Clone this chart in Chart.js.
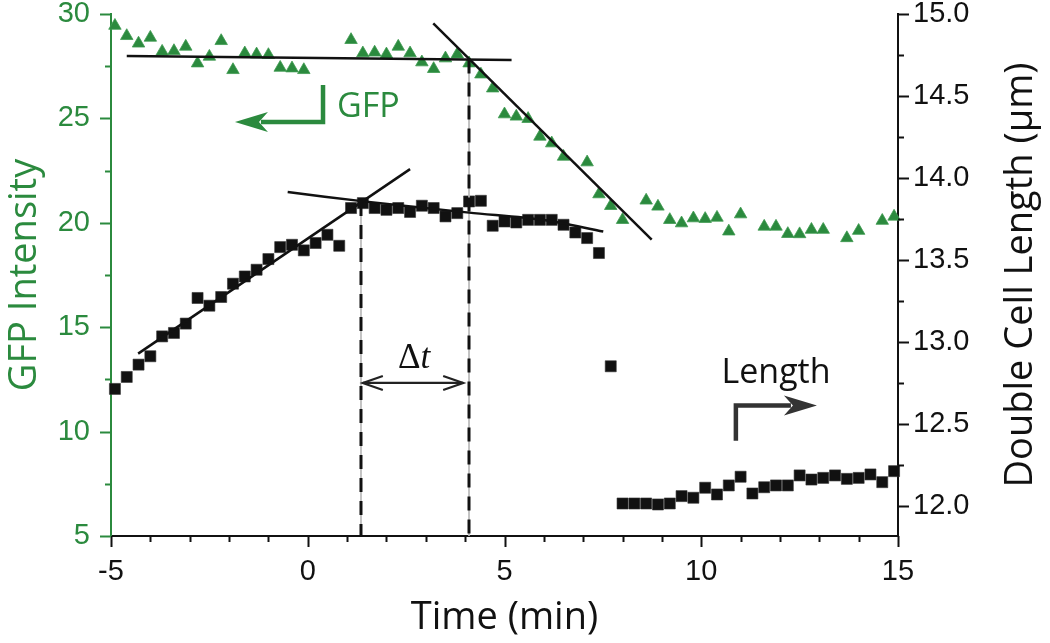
<!DOCTYPE html>
<html>
<head>
<meta charset="utf-8">
<script src="https://cdn.jsdelivr.net/npm/chart.js@4.4.1/dist/chart.umd.min.js"></script>
<style>
  html, body { margin: 0; padding: 0; background: #fff; }
  #wrap { width: 1050px; height: 643px; position: relative; }
</style>
</head>
<body>
<div id="wrap"><canvas id="chart"></canvas></div>
<script>
const GREEN = '#2b8a3e';
const INK = '#111';

// GFP intensity (left axis), triangles
const gfpTime = [-4.9, -4.6, -4.3, -4.0, -3.7, -3.4, -3.1, -2.8, -2.5, -2.2, -1.9, -1.6, -1.3, -1.0, -0.7, -0.4, -0.1,
  1.1, 1.4, 1.7, 2.0, 2.3, 2.6, 2.9, 3.2, 3.5, 3.8, 4.1, 4.4, 4.7, 5.0, 5.3, 5.6, 5.9, 6.2, 6.5,
  7.1, 7.4, 7.7, 8.0, 8.6, 8.9, 9.2, 9.5, 9.8, 10.1, 10.4, 10.7, 11.0,
  11.6, 11.9, 12.2, 12.5, 12.8, 13.1, 13.7, 14.0, 14.6, 14.9];
const gfpValue = [29.44, 28.95, 28.59, 28.87, 28.20, 28.23, 28.44, 27.64, 27.96, 28.71, 27.32, 28.12, 28.07, 28.04, 27.43, 27.40, 27.32,
  28.76, 28.12, 28.16, 28.07, 28.44, 28.12, 27.69, 27.37, 27.88, 28.07, 27.64, 27.11, 26.44, 25.20, 25.09, 24.98, 24.13, 23.81, 23.17,
  22.90, 21.37, 20.81, 20.14, 21.07, 20.78, 20.14, 19.98, 20.22, 20.19, 20.25, 19.59, 20.41,
  19.82, 19.82, 19.47, 19.46, 19.67, 19.67, 19.27, 19.62, 20.10, 20.30];

// double cell length (right axis), squares
const lenTime = [-4.9, -4.6, -4.3, -4.0, -3.7, -3.4, -3.1, -2.8, -2.5, -2.2, -1.9, -1.6, -1.3, -1.0, -0.7, -0.4, -0.1,
  0.2, 0.5, 0.8, 1.1, 1.4, 1.7, 2.0, 2.3, 2.6, 2.9, 3.2, 3.5, 3.8, 4.1, 4.4, 4.7, 5.0, 5.3, 5.6, 5.9, 6.2, 6.5, 6.8,
  7.1, 7.4, 7.7, 8.0, 8.3, 8.6, 8.9, 9.2, 9.5, 9.8, 10.1, 10.4, 10.7, 11.0, 11.3, 11.6, 11.9, 12.2, 12.5, 12.8,
  13.1, 13.4, 13.7, 14.0, 14.3, 14.6, 14.9];
const lenValue = [12.716, 12.789, 12.864, 12.915, 13.036, 13.057, 13.114, 13.270, 13.223, 13.276, 13.357, 13.401, 13.442, 13.507, 13.580, 13.594, 13.560,
  13.605, 13.655, 13.588, 13.818, 13.848, 13.818, 13.807, 13.818, 13.794, 13.832, 13.818, 13.767, 13.787, 13.858, 13.862,
  13.710, 13.736, 13.730, 13.746, 13.746, 13.746, 13.716, 13.669, 13.635, 13.544, 12.854,
  12.018, 12.018, 12.018, 12.012, 12.018, 12.063, 12.053, 12.114, 12.073, 12.128, 12.181,
  12.079, 12.117, 12.128, 12.128, 12.189, 12.164, 12.174, 12.189, 12.168, 12.174, 12.195, 12.148, 12.215];

// fitted guide lines [time, value]
const gfpFlatFit = [[-4.6, 27.99], [5.18, 27.80]];
const gfpDropFit = [[3.19, 29.55], [8.74, 19.19]];
const lenRiseFit = [[-4.31, 12.931], [2.60, 14.055]];
const lenFlatFit = [[-0.51, 13.915], [1.37, 13.860], [4.10, 13.790], [6.00, 13.745], [7.51, 13.675]];

// dashed markers (onsets)
const markLen = [[1.353, 13.855], [1.353, 11.82]];
const markGfp = [[4.098, 27.82], [4.098, 5]];

// ticks
const xMajor = [-5, 0, 5, 10, 15];
const xMinor = [-4, -3, -2, -1, 1, 2, 3, 4, 6, 7, 8, 9, 11, 12, 13, 14];
const gfpMajor = [5, 10, 15, 20, 25, 30];
const gfpMinor = [7.5, 12.5, 17.5, 22.5, 27.5];
const lenMajor = [12.0, 12.5, 13.0, 13.5, 14.0, 14.5, 15.0];
const lenMinor = [12.25, 12.75, 13.25, 13.75, 14.25, 14.75];

const xy = (xs, ys) => xs.map((x, i) => ({ x, y: ys[i] }));
const pts = arr => arr.map(([x, y]) => ({ x, y }));

const tickFont = { family: "'Liberation Sans', Arial, sans-serif", size: 29 };
const titleFont = { family: "'Open Sans', sans-serif", size: 38 };

function guide(data, axis, extra) {
  return Object.assign({
    data: pts(data), yAxisID: axis, showLine: true, pointRadius: 0,
    borderColor: INK, borderWidth: 2.5, order: 0, clip: false
  }, extra || {});
}

const tickMarks = {
  id: 'tickMarks',
  afterDraw(chart) {
    const { ctx, scales: { x, yL, yR }, chartArea: a } = chart;
    ctx.save();
    ctx.lineWidth = 2;
    const vert = (scale, vals, len, color, x0, dir) => {
      ctx.strokeStyle = color;
      vals.forEach(v => {
        const y = Math.round(scale.getPixelForValue(v)) + 0.5;
        ctx.beginPath(); ctx.moveTo(x0, y); ctx.lineTo(x0 + dir * len, y); ctx.stroke();
      });
    };
    ctx.strokeStyle = INK;
    [[xMajor, 11], [xMinor, 6]].forEach(([vals, len]) => {
      vals.forEach(v => {
        const px = Math.round(x.getPixelForValue(v)) + 0.5;
        ctx.beginPath(); ctx.moveTo(px, a.bottom); ctx.lineTo(px, a.bottom + len); ctx.stroke();
      });
    });
    vert(yL, gfpMajor, 11, GREEN, a.left, -1);
    vert(yL, gfpMinor, 6, GREEN, a.left, -1);
    vert(yR, lenMajor, 11, INK, a.right, 1);
    vert(yR, lenMinor, 6, INK, a.right, 1);

    // right axis title, reading bottom to top
    ctx.fillStyle = INK;
    ctx.font = `${titleFont.size}px ${titleFont.family}`;
    ctx.textAlign = 'center';
    ctx.textBaseline = 'middle';
    ctx.translate(1021, (a.top + a.bottom) / 2);
    ctx.rotate(-Math.PI / 2);
    ctx.fillText('Double Cell Length (\u00b5m)', 0, 0);
    ctx.restore();
  }
};

function stealthHead(ctx, tipX, y, dir) {
  ctx.beginPath();
  ctx.moveTo(tipX, y);
  ctx.lineTo(tipX - dir * 33, y - 10);
  ctx.lineTo(tipX - dir * 24, y);
  ctx.lineTo(tipX - dir * 33, y + 10);
  ctx.closePath();
  ctx.fill();
}

const annotations = {
  id: 'annotations',
  afterDatasetsDraw(chart) {
    const { ctx, scales: { x, yL, yR } } = chart;
    ctx.save();

    // GFP bracket arrow, pointing left
    let bx = x.getPixelForValue(0.388), top = yL.getPixelForValue(26.60), cy = yL.getPixelForValue(24.83);
    let tip = x.getPixelForValue(-1.85);
    ctx.strokeStyle = GREEN; ctx.fillStyle = GREEN; ctx.lineWidth = 4.5; ctx.lineCap = 'butt';
    ctx.beginPath(); ctx.moveTo(bx, top); ctx.lineTo(bx, cy); ctx.lineTo(tip + 26, cy); ctx.stroke();
    stealthHead(ctx, tip, cy, -1);
    ctx.font = "34px 'Open Sans', sans-serif";
    ctx.textAlign = 'left'; ctx.textBaseline = 'alphabetic';
    ctx.fillText('GFP', x.getPixelForValue(0.743), yL.getPixelForValue(25.09));

    // Length bracket arrow, pointing right
    bx = x.getPixelForValue(10.88); top = yR.getPixelForValue(12.40); cy = yR.getPixelForValue(12.615);
    tip = x.getPixelForValue(12.94);
    ctx.strokeStyle = '#333'; ctx.fillStyle = '#333';
    ctx.beginPath(); ctx.moveTo(bx, top); ctx.lineTo(bx, cy); ctx.lineTo(tip - 26, cy); ctx.stroke();
    stealthHead(ctx, tip, cy, 1);
    ctx.fillStyle = INK;
    ctx.textAlign = 'center';
    ctx.fillText('Length', x.getPixelForValue(11.90), yR.getPixelForValue(12.755));

    // delta t double arrow
    const ay = yL.getPixelForValue(12.33);
    const x1 = x.getPixelForValue(1.40), x2 = x.getPixelForValue(3.95);
    ctx.strokeStyle = '#222'; ctx.lineWidth = 2.2;
    ctx.beginPath(); ctx.moveTo(x1, ay); ctx.lineTo(x2, ay); ctx.stroke();
    ctx.beginPath();
    ctx.moveTo(x1 + 20, ay - 7); ctx.lineTo(x1, ay); ctx.lineTo(x1 + 20, ay + 7);
    ctx.moveTo(x2 - 20, ay - 7); ctx.lineTo(x2, ay); ctx.lineTo(x2 - 20, ay + 7);
    ctx.stroke();

    const cx = x.getPixelForValue(2.70), base = yL.getPixelForValue(13.06);
    const up = "35px 'Liberation Serif', serif", it = "italic 35px 'Liberation Serif', serif";
    ctx.fillStyle = INK; ctx.textAlign = 'left';
    ctx.font = up;
    const wd = ctx.measureText('\u0394').width;
    ctx.font = it;
    const wt = ctx.measureText('t').width;
    const sx = cx - (wd + wt) / 2;
    ctx.font = up;
    ctx.fillText('\u0394', sx, base);
    ctx.font = it;
    ctx.fillText('t', sx + wd, base);

    ctx.restore();
  }
};

new Chart(document.getElementById('chart'), {
  type: 'scatter',
  data: {
    datasets: [
      guide(gfpFlatFit, 'yL'),
      guide(gfpDropFit, 'yL'),
      guide(lenRiseFit, 'yR'),
      guide(lenFlatFit, 'yR', { tension: 0.3 }),
      guide(markLen, 'yR', { borderWidth: 3, borderDash: [14, 9] }),
      guide(markGfp, 'yL', { borderWidth: 3, borderDash: [14, 9] }),
      guide(markLen, 'yR', { borderWidth: 1, borderColor: '#bbb', order: 1 }),
      guide(markGfp, 'yL', { borderWidth: 1, borderColor: '#bbb', order: 1 }),
      {
        label: 'GFP', data: xy(gfpTime, gfpValue), yAxisID: 'yL', order: 2, clip: false,
        pointStyle: 'triangle', pointRadius: 7.2, backgroundColor: GREEN, borderColor: '#3f9a50', borderWidth: 0.8
      },
      {
        label: 'Length', data: xy(lenTime, lenValue), yAxisID: 'yR', order: 2, clip: false,
        pointStyle: 'rect', pointRadius: 7.8, backgroundColor: INK, borderColor: '#333', borderWidth: 0.6
      }
    ]
  },
  options: {
    responsive: true,
    maintainAspectRatio: false,
    animation: false,
    events: [],
    layout: { padding: { top: 14, left: 0, right: 0, bottom: 0 } },
    plugins: { legend: { display: false }, tooltip: { enabled: false } },
    scales: {
      x: {
        type: 'linear', min: -5, max: 15,
        afterBuildTicks: s => { s.ticks = xMajor.map(v => ({ value: v })); },
        ticks: { font: tickFont, color: INK, padding: 19, callback: v => String(v) },
        grid: { display: false, drawTicks: false },
        border: { color: INK, width: 2 },
        title: { display: true, text: 'Time (min)', font: titleFont, color: INK, padding: { top: 0, bottom: 2 } },
        afterFit: s => { s.height = 107; s.paddingLeft = 0; s.paddingRight = 0; }
      },
      yL: {
        type: 'linear', position: 'left', min: 5, max: 30,
        afterBuildTicks: s => { s.ticks = gfpMajor.map(v => ({ value: v })); },
        ticks: { font: tickFont, color: GREEN, padding: 21, callback: v => String(v) },
        grid: { display: false, drawTicks: false },
        border: { color: GREEN, width: 2 },
        title: { display: true, text: 'GFP Intensity', font: titleFont, color: GREEN, padding: { top: 2, bottom: 0 } },
        afterFit: s => { s.width = 111; s.paddingTop = 0; s.paddingBottom = 0; }
      },
      yR: {
        type: 'linear', position: 'right', min: 11.82, max: 15,
        afterBuildTicks: s => { s.ticks = lenMajor.map(v => ({ value: v })); },
        ticks: { font: tickFont, color: INK, padding: 15, callback: v => v.toFixed(1) },
        grid: { display: false, drawTicks: false },
        border: { color: INK, width: 2 },
        afterFit: s => { s.width = 152; s.paddingTop = 0; s.paddingBottom = 0; }
      }
    }
  },
  plugins: [tickMarks, annotations]
});
</script>
</body>
</html>
